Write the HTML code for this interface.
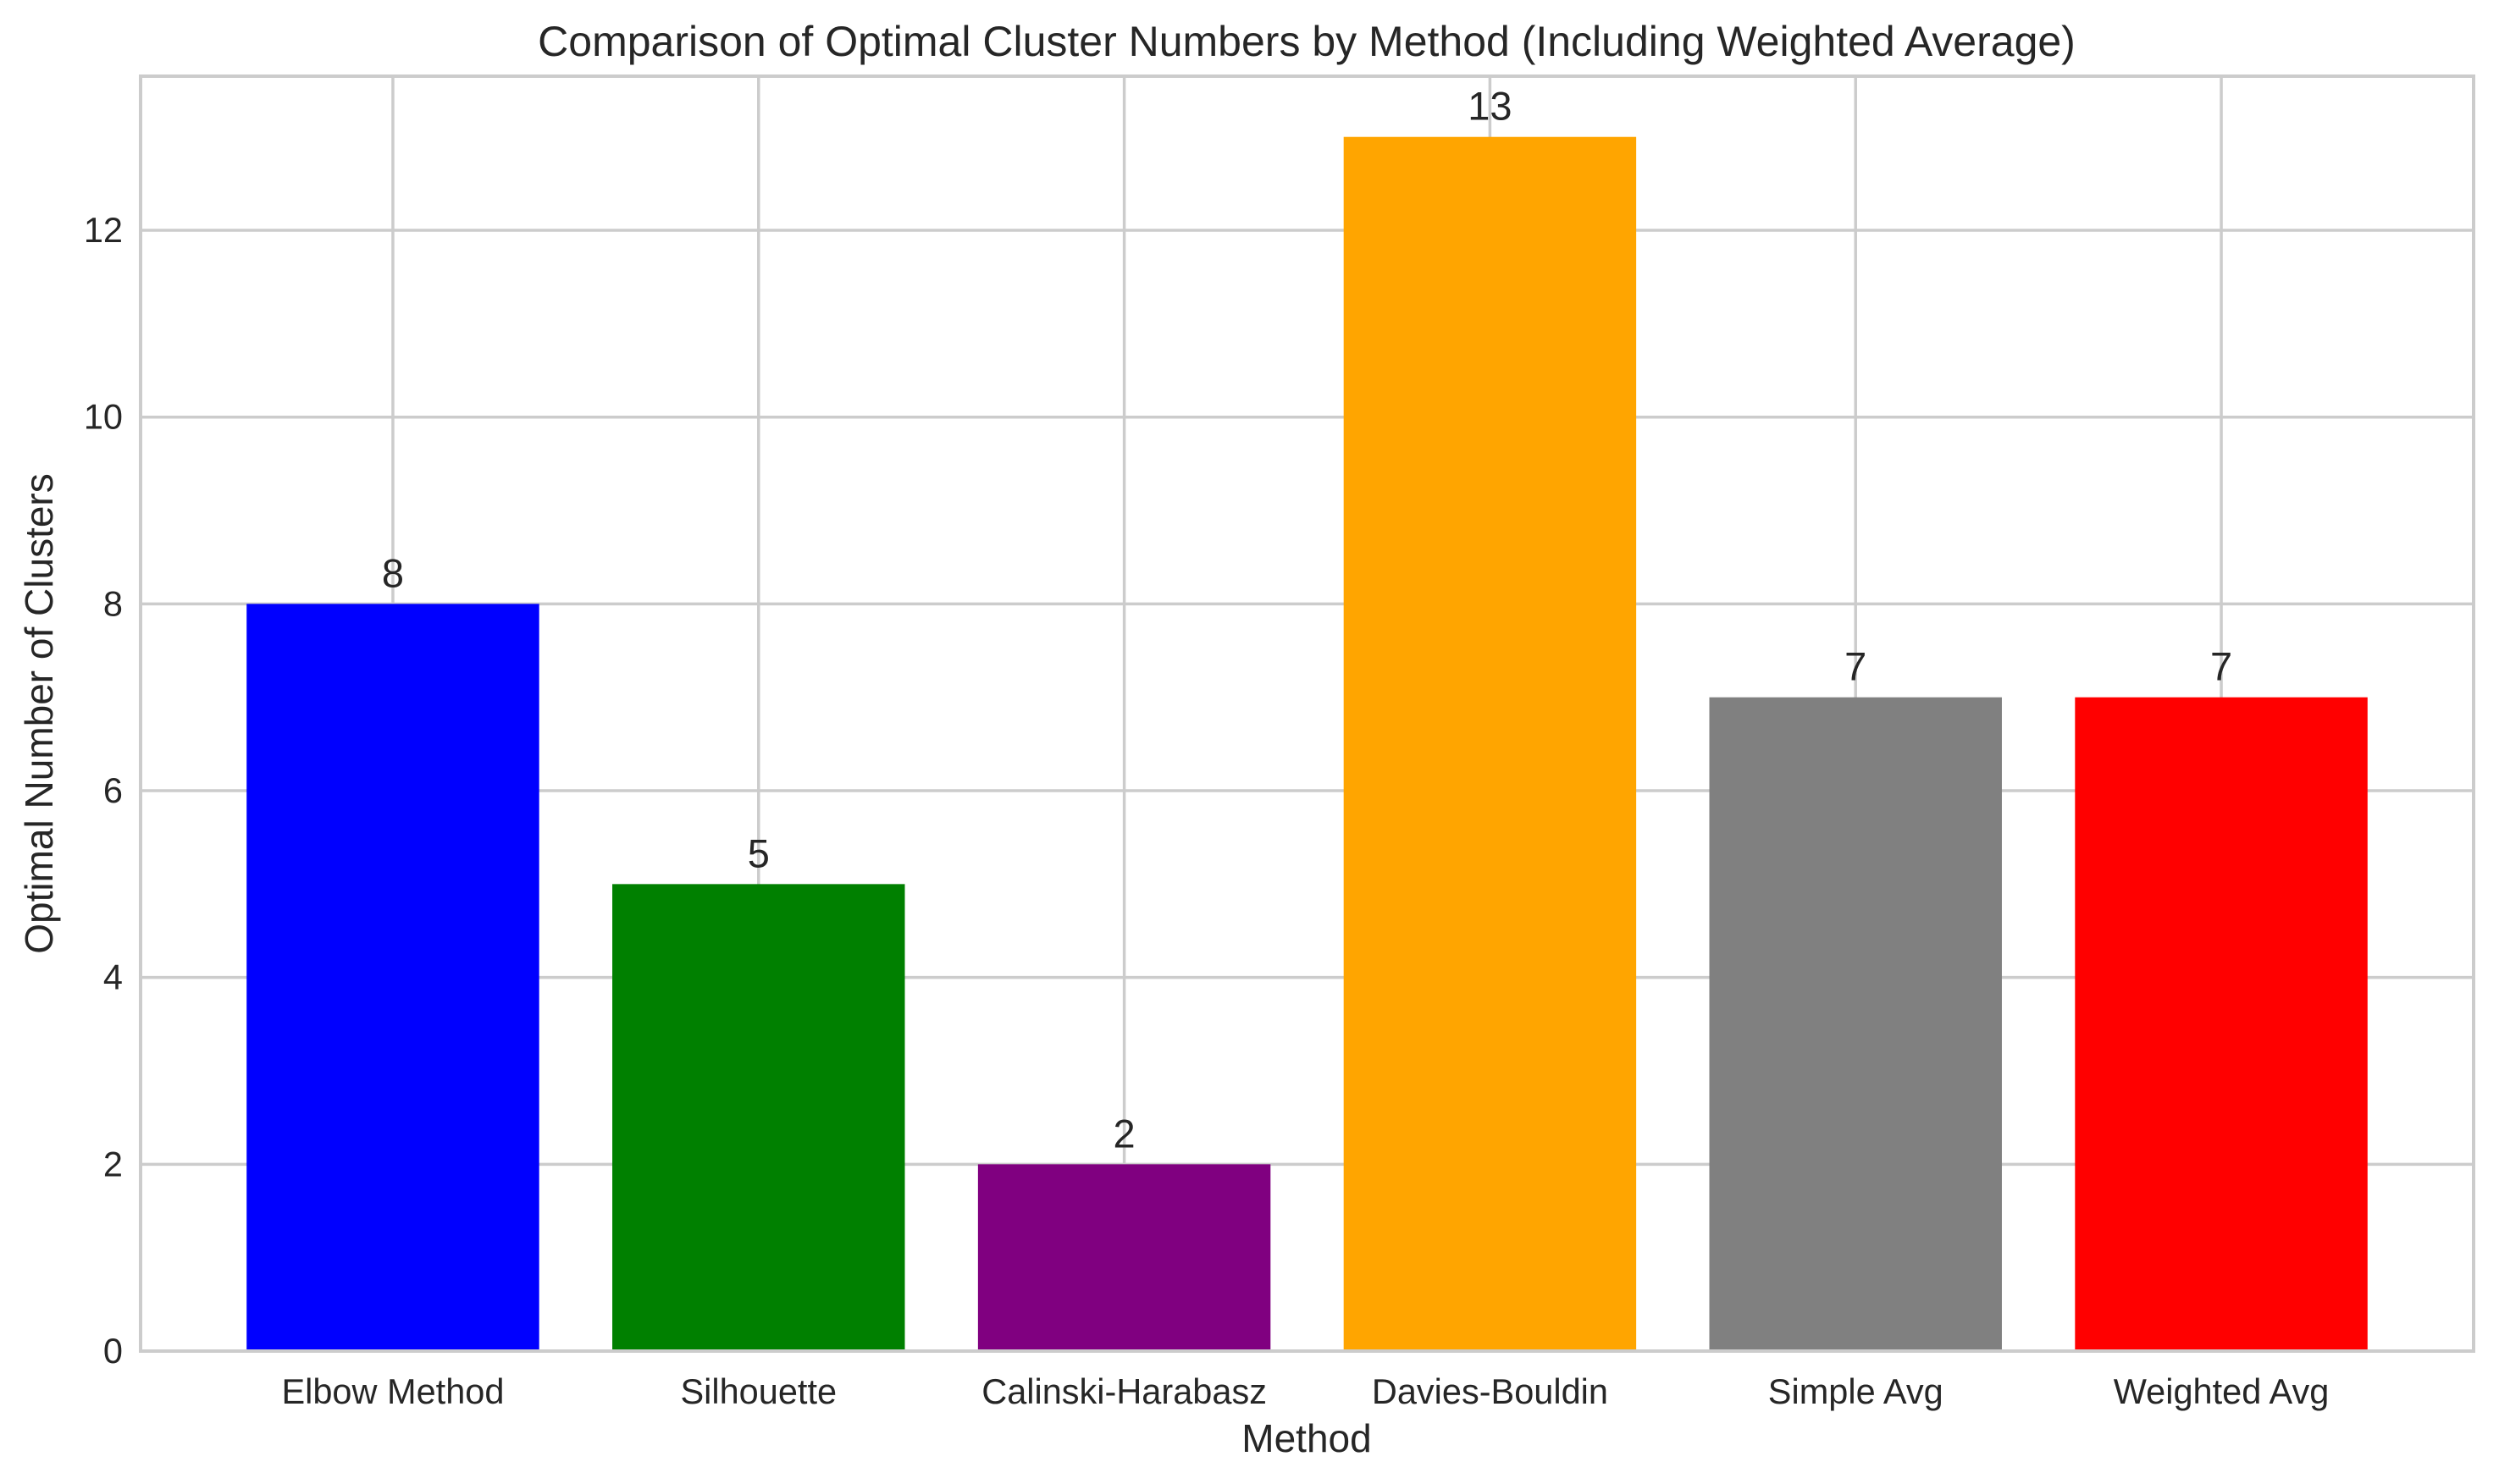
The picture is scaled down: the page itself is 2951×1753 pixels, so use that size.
<!DOCTYPE html>
<html><head><meta charset="utf-8"><style>
html,body{margin:0;padding:0;background:#fff;}
svg{display:block;font-family:"Liberation Sans",Arial,sans-serif;}
</style></head><body>
<svg id="chart" width="2951" height="1753" viewBox="0 0 2951 1753">
<text x="1543" y="66" text-anchor="middle" font-size="50" fill="#262626">Comparison of Optimal Cluster Numbers by Method (Including Weighted Average)</text>
<g id="grid"></g>
<g id="bars"></g>
<g id="labels"></g>
<rect x="166" y="90" width="2755" height="1506" fill="none" stroke="#cccccc" stroke-width="4"/>
<text x="1543" y="1715" text-anchor="middle" font-size="46" fill="#262626">Method</text>
<text transform="translate(62,843) rotate(-90)" text-anchor="middle" font-size="46" fill="#262626">Optimal Number of Clusters</text>
</svg>
<script>
const categories = ["Elbow Method","Silhouette","Calinski-Harabasz","Davies-Bouldin","Simple Avg","Weighted Avg"];
const values = [8,5,2,13,7,7];
const colors = ["#0000ff","#008000","#800080","#ffa500","#808080","#ff0000"];
const yTicks = [0,2,4,6,8,10,12];

const L=166,R=2921,T=90,B=1596;
const yMax=13.65, xMin=-0.69, xMax=5.69;
const ns="http://www.w3.org/2000/svg";
function sx(v){return L+(v-xMin)/(xMax-xMin)*(R-L);}
function sy(v){return B-v/yMax*(B-T);}
function mk(tag,attrs,parent){const e=document.createElementNS(ns,tag);for(const k in attrs)e.setAttribute(k,attrs[k]);parent.appendChild(e);return e;}
const grid=document.getElementById('grid'),bars=document.getElementById('bars'),labels=document.getElementById('labels');
yTicks.forEach(t=>{
  const y=sy(t);
  const g=mk('line',{x1:L,x2:R,y1:y,y2:y,stroke:'#cccccc','stroke-width':3.5},grid);
  
  
  const tx=mk('text',{x:145,y:y+14,'text-anchor':'end','font-size':41.5,fill:'#262626'},labels);
  tx.textContent=t;
  
  
});
const bw=0.8;
categories.forEach((c,i)=>{
  const x=sx(i);
  const g=mk('line',{x1:x,x2:x,y1:T,y2:B,stroke:'#cccccc','stroke-width':3.5},grid);
  
  
  const x0=sx(i-bw/2),x1=sx(i+bw/2);
  const r=mk('rect',{x:x0,y:sy(values[i]),width:x1-x0,height:sy(0)-sy(values[i]),fill:colors[i]},bars);
  
  
  const v=mk('text',{x:x,y:sy(values[i])-20,'text-anchor':'middle','font-size':47,fill:'#262626'},labels);
  v.textContent=values[i];
  
  
  const tl=mk('text',{x:x,y:1658,'text-anchor':'middle','font-size':41.5,fill:'#262626'},labels);
  tl.textContent=c;
  
  
});
</script>
</body></html>
